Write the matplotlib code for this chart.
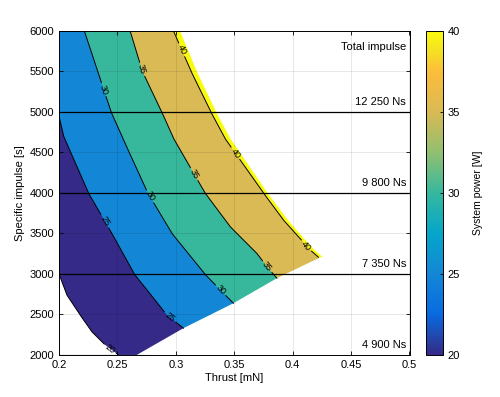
import numpy as np
import matplotlib
matplotlib.use("Agg")
import matplotlib.pyplot as plt
from matplotlib.colors import LinearSegmentedColormap, Normalize
from matplotlib.cm import ScalarMappable

plt.rcParams['font.family'] = ['Liberation Sans', 'DejaVu Sans']

# power levels of the contour lines [W]
levels = [20, 25, 30, 35, 40]

# contour lines: thrust [mN], specific impulse [s]
c20_t = [0.200, 0.2067, 0.218, 0.228, 0.2395, 0.251]
c20_i = [3000, 2741, 2494, 2288, 2123, 2000]
c25_t = [0.200, 0.204, 0.2252, 0.2452, 0.2646, 0.2923, 0.3065]
c25_i = [4950, 4700, 4000, 3502, 2996, 2494, 2330]
c30_t = [0.2217, 0.2332, 0.2446, 0.2546, 0.276, 0.2966, 0.325, 0.338, 0.3493]
c30_i = [6000, 5500, 5000, 4675, 4000, 3502, 2996, 2802, 2638]
c35_t = [0.2609, 0.2714, 0.288, 0.298, 0.325, 0.3465, 0.3693, 0.378, 0.3865]
c35_i = [6000, 5500, 5000, 4675, 4000, 3584, 3255, 3090, 2947]
c40_t = [0.298, 0.3131, 0.330, 0.342, 0.375, 0.392, 0.405, 0.415, 0.4221]
c40_i = [6000, 5500, 5000, 4675, 4000, 3667, 3460, 3296, 3206]

# edges of the feasible region
upper_t = [0.3035, 0.318, 0.3345, 0.3465, 0.3785, 0.3958, 0.4083, 0.4187, 0.4255]
upper_i = [6000, 5500, 5000, 4675, 4000, 3667, 3460, 3296, 3210]
lower_t = [0.2666, 0.3065, 0.3493, 0.3865, 0.419, 0.4255]
lower_i = [2000, 2330, 2638, 2947, 3173, 3210]

# total impulse reference lines
imp_isp = [2000, 3000, 4000, 5000]
imp_lbl = ["4 900 Ns", "7 350 Ns", "9 800 Ns", "12 250 Ns"]

# where the contour labels sit
lab_pos = {
    20: [(0.245, 2102)],
    25: [(0.2386, 3646), (0.2957, 2481)],
    30: [(0.2386, 5280), (0.2795, 3975), (0.3388, 2811)],
    35: [(0.2717, 5531), (0.3174, 4243), (0.378, 3090)],
    40: [(0.305, 5765), (0.3508, 4490), (0.4127, 3358)],
}

# MATLAB parula approximation
parula = LinearSegmentedColormap.from_list("parula", [
    (0.000, (0.208, 0.166, 0.529)),
    (0.125, (0.030, 0.420, 0.880)),
    (0.250, (0.075, 0.530, 0.840)),
    (0.375, (0.020, 0.650, 0.790)),
    (0.500, (0.210, 0.720, 0.620)),
    (0.625, (0.570, 0.750, 0.440)),
    (0.750, (0.850, 0.730, 0.330)),
    (0.875, (0.990, 0.740, 0.230)),
    (0.940, (0.960, 0.880, 0.140)),
    (1.000, (0.976, 0.983, 0.054)),
])
norm = Normalize(20, 40)

fig = plt.figure(figsize=(5.0, 3.97), dpi=100)
ax = fig.add_axes([0.118, 0.106, 0.701, 0.816])
cax = fig.add_axes([0.852, 0.106, 0.034, 0.816])
ax.set_xlim(0.2, 0.5)
ax.set_ylim(2000, 6000)

# filled bands, painted from the outside in
ax.fill([0.2, 0.2] + upper_t + lower_t[::-1], [2000, 6000] + upper_i + lower_i[::-1],
        color=parula(norm(40)), lw=0, zorder=1)
lines = {20: (c20_t, c20_i), 25: (c25_t, c25_i), 30: (c30_t, c30_i),
         35: (c35_t, c35_i), 40: (c40_t, c40_i)}
for lev in [40, 35, 30, 25]:
    t, i = lines[lev]
    col = parula(norm(lev - 5))
    ax.fill([0.2] + t + [t[-1], 0.2], [6000] + i + [2000, 2000], color=col, lw=0, zorder=1)
ax.fill(c20_t + [0.2], c20_i + [2000], color="white", lw=0, zorder=1)
ax.fill(lower_t + [0.44, 0.44], lower_i + [3210, 1990], color="white", lw=0, zorder=1)

# contour lines with gaps for the labels
fig.canvas.draw()
for lev in levels:
    t, i = lines[lev]
    pts = ax.transData.transform(np.column_stack([t, i]))
    seg = np.hypot(*np.diff(pts, axis=0).T)
    s = np.concatenate([[0], np.cumsum(seg)])
    ss = np.linspace(0, s[-1], 500)
    dense = np.column_stack([np.interp(ss, s, pts[:, 0]), np.interp(ss, s, pts[:, 1])])
    keep = np.ones(len(ss), bool)
    for p in lab_pos[lev]:
        pp = ax.transData.transform(p)
        k = np.argmin(np.hypot(*(dense - pp).T))
        keep &= np.abs(ss - ss[k]) > 7.5
        d = dense[min(k + 4, len(ss) - 1)] - dense[max(k - 4, 0)]
        ang = np.degrees(np.arctan2(d[1], d[0]))
        if ang > 90:
            ang -= 180
        if ang < -90:
            ang += 180
        xy = ax.transData.inverted().transform(dense[k])
        ax.text(xy[0], xy[1], str(lev), rotation=ang, rotation_mode="anchor",
                ha="center", va="center", fontsize=6.5, zorder=4)
    xy = ax.transData.inverted().transform(dense)
    xs = np.where(keep, xy[:, 0], np.nan)
    ys = np.where(keep, xy[:, 1], np.nan)
    ax.plot(xs, ys, color="black", lw=0.7, zorder=3)

# total impulse lines
for isp, lbl in zip(imp_isp, imp_lbl):
    if isp > 2000:
        ax.axhline(isp, color="black", lw=0.9, zorder=3)
    ax.text(0.497, isp + 60, lbl, ha="right", va="bottom", fontsize=8, zorder=4)
ax.text(0.497, 5800, "Total impulse", ha="right", va="center", fontsize=8, zorder=4)

ax.set_xticks(np.arange(0.2, 0.501, 0.05))
ax.set_xticklabels(["0.2", "0.25", "0.3", "0.35", "0.4", "0.45", "0.5"])
ax.set_yticks(np.arange(2000, 6001, 500))
ax.grid(True, color="black", alpha=0.13, lw=0.5, zorder=2)
ax.set_axisbelow(False)
ax.tick_params(direction="in", top=True, right=True, labelsize=8, length=3, width=0.6)
for sp in ax.spines.values():
    sp.set_linewidth(0.7)
    sp.set_zorder(5)
ax.set_xlabel("Thrust [mN]", fontsize=8, labelpad=2)
ax.set_ylabel("Specific impulse [s]", fontsize=8, labelpad=3)

cb = fig.colorbar(ScalarMappable(norm=norm, cmap=parula), cax=cax, ticks=levels)
cb.ax.tick_params(direction="in", labelsize=8, length=2.5, width=0.6)
cb.outline.set_linewidth(0.7)
cb.set_label("System power [W]", fontsize=7.5, labelpad=9)

fig.savefig("out.png", dpi=100)
